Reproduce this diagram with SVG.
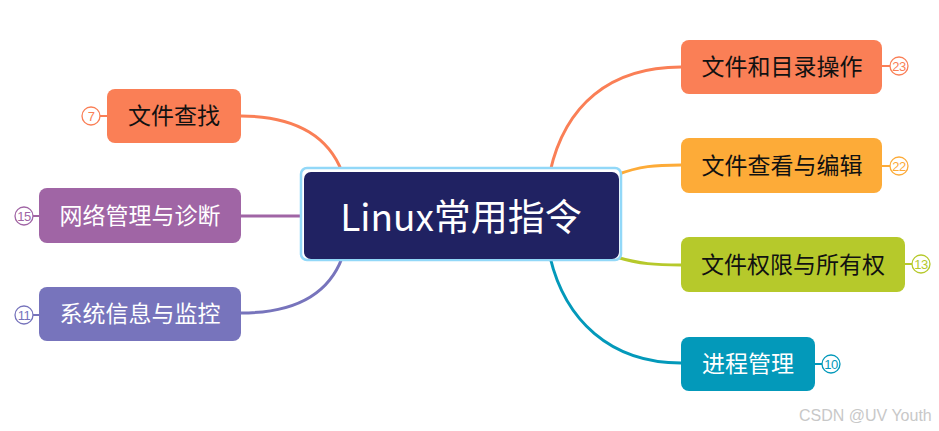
<svg xmlns="http://www.w3.org/2000/svg" width="939" height="431" viewBox="0 0 939 431">
<style>
.lbl{font-family:"Noto Sans CJK SC","Liberation Sans",sans-serif;font-size:23px;text-anchor:middle}
.dark{fill:#111111}
.light{fill:#ffffff}
.conn{fill:none;stroke-width:3;stroke-linecap:round}
.badge{fill:#ffffff;stroke-width:1.3}
.bnum{font-family:"Liberation Sans",sans-serif;font-size:13px;text-anchor:middle;letter-spacing:-0.5px}
.tick{stroke-width:2}
</style>
<rect width="939" height="431" fill="#ffffff"/>
<g id="connectors">
<path class="conn" stroke="#FA7F56" d="M241,116 C300,116 330,140 342,172"/>
<path class="conn" stroke="#A065A5" d="M241,216 L304,216"/>
<path class="conn" stroke="#7774BC" d="M241,313 C300,313 330,290 342,258"/>
<path class="conn" stroke="#FA7F56" d="M550,172 C565,105 610,67 681,67"/>
<path class="conn" stroke="#FDAB38" d="M616,175 C640,166 655,165 681,165"/>
<path class="conn" stroke="#B6C92B" d="M616,257 C640,264 655,265 681,265"/>
<path class="conn" stroke="#0399BA" d="M550,257 C565,320 610,363 681,363"/>
</g>
<g id="root">
<rect x="301" y="168" width="320" height="92" rx="6" fill="#ffffff" stroke="#92D8F8" stroke-width="2.5"/>
<rect x="304" y="172" width="315" height="87" rx="7" fill="#202262"/>
<text x="461" y="231" font-family="Noto Sans CJK SC,Liberation Sans,sans-serif" font-size="37" fill="#ffffff" text-anchor="middle">Linux常用指令</text>
</g>
<g id="n-find">
<line class="tick" x1="100" y1="116" x2="107" y2="116" stroke="#FA7F56"/>
<circle class="badge" cx="91" cy="116" r="9" stroke="#FA7F56"/>
<text class="bnum" x="91" y="120.5" fill="#FA7F56">7</text>
<rect x="107" y="89" width="134" height="54" rx="8" fill="#FA7F56"/>
<text class="lbl dark" x="174" y="124">文件查找</text>
</g>
<g id="n-net">
<line class="tick" x1="33" y1="216" x2="39" y2="216" stroke="#A065A5"/>
<circle class="badge" cx="24" cy="216" r="9" stroke="#A065A5"/>
<text class="bnum" x="24" y="220.5" fill="#A065A5">15</text>
<rect x="39" y="188" width="202" height="55" rx="8" fill="#A065A5"/>
<text class="lbl light" x="140" y="224">网络管理与诊断</text>
</g>
<g id="n-sys">
<line class="tick" x1="33" y1="315" x2="39" y2="315" stroke="#7774BC"/>
<circle class="badge" cx="24" cy="315" r="9" stroke="#7774BC"/>
<text class="bnum" x="24" y="319.5" fill="#7774BC">11</text>
<rect x="39" y="287" width="202" height="54" rx="8" fill="#7774BC"/>
<text class="lbl light" x="140" y="322">系统信息与监控</text>
</g>
<g id="n-dir">
<line class="tick" x1="882" y1="66" x2="890" y2="66" stroke="#FA7F56"/>
<circle class="badge" cx="899" cy="66" r="9" stroke="#FA7F56"/>
<text class="bnum" x="899" y="70.5" fill="#FA7F56">23</text>
<rect x="681" y="40" width="201" height="54" rx="8" fill="#FA7F56"/>
<text class="lbl dark" x="782" y="75">文件和目录操作</text>
</g>
<g id="n-view">
<line class="tick" x1="882" y1="166" x2="890" y2="166" stroke="#FDAB38"/>
<circle class="badge" cx="899" cy="166" r="9" stroke="#FDAB38"/>
<text class="bnum" x="899" y="170.5" fill="#FDAB38">22</text>
<rect x="681" y="138" width="201" height="55" rx="8" fill="#FDAB38"/>
<text class="lbl dark" x="782" y="174">文件查看与编辑</text>
</g>
<g id="n-perm">
<line class="tick" x1="905" y1="264" x2="912" y2="264" stroke="#B6C92B"/>
<circle class="badge" cx="921" cy="264" r="9" stroke="#B6C92B"/>
<text class="bnum" x="921" y="268.5" fill="#B6C92B">13</text>
<rect x="681" y="237" width="224" height="55" rx="8" fill="#B6C92B"/>
<text class="lbl dark" x="793" y="273">文件权限与所有权</text>
</g>
<g id="n-proc">
<line class="tick" x1="815" y1="364" x2="822" y2="364" stroke="#0399BA"/>
<circle class="badge" cx="831" cy="364" r="9" stroke="#0399BA"/>
<text class="bnum" x="831" y="368.5" fill="#0399BA">10</text>
<rect x="681" y="337" width="134" height="54" rx="8" fill="#0399BA"/>
<text class="lbl light" x="748" y="372">进程管理</text>
</g>
<text x="799" y="421" font-family="Liberation Sans,sans-serif" font-size="16" fill="#C8C8C8">CSDN @UV Youth</text>
</svg>
